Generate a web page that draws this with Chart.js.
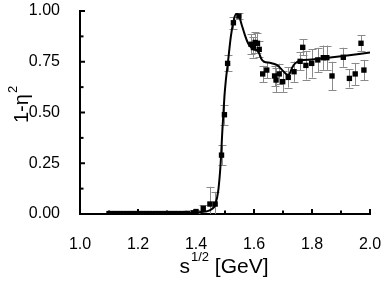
<!DOCTYPE html>
<html><head><meta charset="utf-8">
<script src="https://cdn.jsdelivr.net/npm/chart.js@4"></script>
<style>html,body{margin:0;padding:0;background:#fff}</style>
</head><body>
<canvas id="c" width="390" height="289"></canvas>
<script>
const pointX = [1.10,1.11,1.12,1.13,1.14,1.15,1.16,1.17,1.18,1.19,1.20,1.21,1.22,1.23,1.24,1.25,1.26,1.27,1.28,1.29,1.30,1.31,1.32,1.33,1.34,1.35,1.36,1.37,
  1.39,1.40,1.425,1.448,1.466,1.488,1.498,1.509,1.529,1.548,
  1.590,1.598,1.604,1.612,1.618,1.630,1.644,1.671,1.676,1.687,1.699,1.718,1.738,1.759,1.768,1.779,1.799,1.820,1.839,1.851,1.869,1.908,1.929,1.949,1.969,1.979];
const pointY = [0.002,0.002,0.002,0.002,0.002,0.002,0.002,0.002,0.002,0.002,0.002,0.002,0.002,0.002,0.002,0.002,0.002,0.002,0.002,0.002,0.002,0.002,0.002,0.002,0.002,0.002,0.002,0.003,
  0.006,0.012,0.028,0.049,0.049,0.290,0.489,0.742,0.942,0.975,
  0.836,0.820,0.845,0.841,0.811,0.690,0.709,0.680,0.660,0.690,0.652,0.673,0.701,0.752,0.821,0.732,0.742,0.759,0.770,0.770,0.680,0.772,0.668,0.690,0.841,0.709];
const pointErr = [0,0,0,0,0,0,0,0,0,0,0,0,0,0,0,0,0,0,0,0,0,0,0,0,0,0,0,0,
  0.005,0.008,0.015,0.085,0.06,0.05,0.05,0.04,0.03,0.015,
  0.05,0.05,0.05,0.05,0.04,0.04,0.04,0.05,0.06,0.05,0.05,0.05,0.05,0.045,0.04,0.07,0.07,0.06,0.06,0.06,0.07,0.047,0.045,0.054,0.04,0.05];
const curveX = [1.10,1.20,1.30,1.38,1.42,1.44,1.455,1.466,1.477,1.485,1.491,1.498,1.503,1.510,1.520,1.529,1.538,1.547,1.557,1.569,1.580,1.592,1.600,1.612,1.618,1.625,1.635,1.655,1.680,1.700,1.712,1.718,1.724,1.732,1.742,1.760,1.800,1.840,1.908,2.000];
const curveY = [0.000,0.000,0.001,0.004,0.010,0.014,0.025,0.045,0.118,0.250,0.414,0.578,0.660,0.745,0.873,0.947,0.985,0.980,0.935,0.880,0.840,0.818,0.810,0.805,0.790,0.765,0.750,0.745,0.733,0.705,0.688,0.685,0.695,0.722,0.742,0.755,0.761,0.767,0.778,0.795];
const xTickVals = [1.0,1.1,1.2,1.3,1.4,1.5,1.6,1.7,1.8,1.9,2.0];
const yTickVals = [0,0.125,0.25,0.375,0.5,0.625,0.75,0.875,1.0];

const FONT = '"Liberation Sans", Arial, Helvetica, sans-serif';

const errorBars = {
  id: 'errorBars',
  beforeDatasetsDraw(chart) {
    const {ctx, chartArea, scales:{x, y}} = chart;
    ctx.save();
    ctx.beginPath();
    ctx.rect(chartArea.left, chartArea.top, chartArea.right - chartArea.left, chartArea.bottom - chartArea.top);
    ctx.clip();
    ctx.strokeStyle = '#8a8a8a';
    ctx.lineWidth = 1;
    pointX.forEach((vx, i) => {
      const e = pointErr[i];
      if (!e) return;
      const px = Math.round(x.getPixelForValue(vx)) + 0.5;
      const top = y.getPixelForValue(pointY[i] + e);
      const bot = y.getPixelForValue(pointY[i] - e);
      ctx.beginPath();
      ctx.moveTo(px, top); ctx.lineTo(px, bot);
      ctx.moveTo(px - 4, Math.round(top) + 0.5); ctx.lineTo(px + 4, Math.round(top) + 0.5);
      ctx.moveTo(px - 4, Math.round(bot) + 0.5); ctx.lineTo(px + 4, Math.round(bot) + 0.5);
      ctx.stroke();
    });
    ctx.restore();
  }
};

const decor = {
  id: 'decor',
  afterDraw(chart) {
    const {ctx, chartArea, scales:{x, y}} = chart;
    ctx.save();
    ctx.strokeStyle = '#000';
    ctx.lineWidth = 2;
    xTickVals.forEach((v, i) => {
      const px = x.getPixelForValue(v);
      const len = (i % 2 === 0) ? 5 : 3.5;
      ctx.beginPath(); ctx.moveTo(px, chartArea.bottom); ctx.lineTo(px, chartArea.bottom - len); ctx.stroke();
    });
    yTickVals.forEach((v, i) => {
      const py = y.getPixelForValue(v);
      const len = (i % 2 === 0) ? 5 : 3.5;
      ctx.beginPath(); ctx.moveTo(chartArea.left, py); ctx.lineTo(chartArea.left + len, py); ctx.stroke();
    });
    ctx.fillStyle = '#000';
    ctx.textBaseline = 'alphabetic';
    ctx.textAlign = 'left';
    ctx.font = '21px ' + FONT;
    const wS = ctx.measureText('s').width;
    const wG = ctx.measureText(' [GeV]').width;
    ctx.font = '13px ' + FONT;
    const wH = ctx.measureText('1/2').width;
    const total = wS + 1 + wH + wG;
    let sx = (chartArea.left + chartArea.right) / 2 - 1 - total / 2;
    const base = 273;
    ctx.font = '21px ' + FONT;
    ctx.fillText('s', sx, base);
    ctx.font = '13px ' + FONT;
    ctx.fillText('1/2', sx + wS + 1, base - 12);
    ctx.font = '21px ' + FONT;
    ctx.fillText(' [GeV]', sx + wS + 1 + wH, base);
    ctx.translate(28, 123);
    ctx.rotate(-Math.PI / 2);
    ctx.font = '20px ' + FONT;
    ctx.fillText('1-η', 0, 0);
    const w1 = ctx.measureText('1-η').width;
    ctx.font = '13px ' + FONT;
    ctx.fillText('2', w1 + 1, -11);
    ctx.restore();
  }
};

new Chart(document.getElementById('c'), {
  type: 'scatter',
  data: {
    datasets: [
      {
        label: 'model',
        data: curveX.map((v, i) => ({x: v, y: curveY[i]})),
        showLine: true,
        borderColor: '#000',
        borderWidth: 2,
        pointRadius: 0,
        cubicInterpolationMode: 'monotone',
        fill: false,
        order: 2
      },
      {
        label: 'data',
        data: pointX.map((v, i) => ({x: v, y: pointY[i]})),
        pointStyle: 'rect',
        pointRadius: 3.8,
        backgroundColor: '#000',
        borderColor: '#000',
        borderWidth: 0,
        clip: 0,
        order: 1
      }
    ]
  },
  options: {
    responsive: false,
    animation: false,
    devicePixelRatio: 1,
    layout: {autoPadding: false, padding: {left: 0, right: 20, top: 11, bottom: 0}},
    plugins: {legend: {display: false}, tooltip: {enabled: false}},
    scales: {
      x: {
        type: 'linear', min: 1, max: 2,
        grid: {display: false},
        border: {display: true, color: '#000', width: 2},
        ticks: {stepSize: 0.2, padding: 13, color: '#000', font: {size: 16, family: FONT},
          callback: v => Number(v).toFixed(1)},
        afterFit: s => { s.height = 75; s.paddingLeft = 0; s.paddingRight = 0; s.paddingTop = 0; s.paddingBottom = 0; }
      },
      y: {
        type: 'linear', min: 0, max: 1,
        grid: {display: false},
        border: {display: true, color: '#000', width: 2},
        ticks: {stepSize: 0.25, padding: 12, color: '#000', font: {size: 16, family: FONT},
          callback: v => Number(v).toFixed(2)},
        afterFit: s => { s.width = 80; s.paddingLeft = 0; s.paddingRight = 0; s.paddingTop = 0; s.paddingBottom = 0; }
      }
    }
  },
  plugins: [errorBars, decor]
});
</script>
</body></html>
